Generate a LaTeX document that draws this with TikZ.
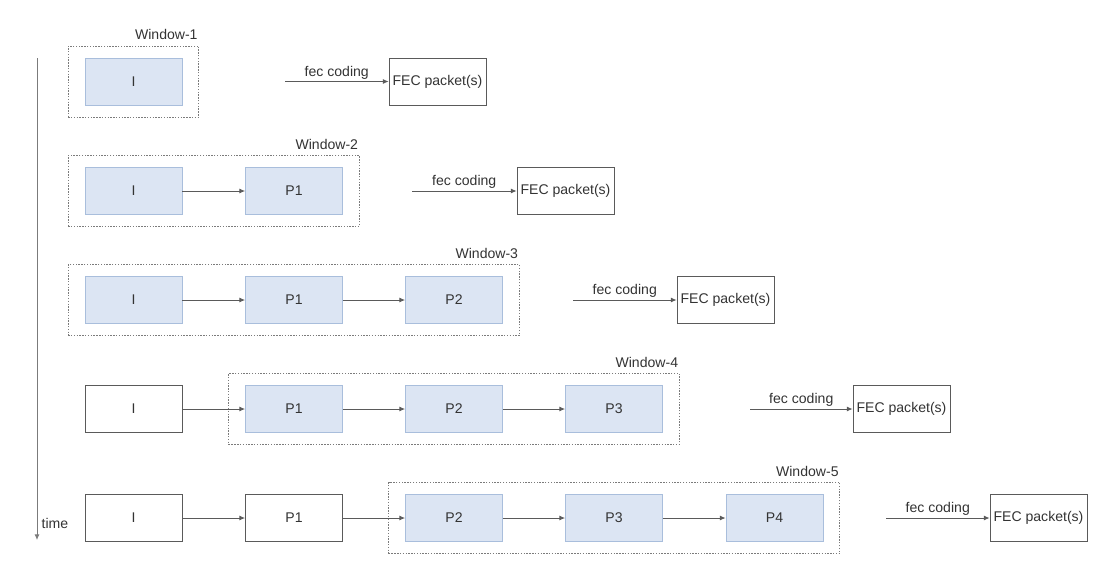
\documentclass[tikz,border=0pt]{standalone}
\usepackage{fontspec}
\setmainfont{Liberation Sans}
\usetikzlibrary{arrows.meta,fit}
\definecolor{pktfill}{HTML}{DCE5F3}
\definecolor{pktline}{HTML}{A9BEDC}
\definecolor{txtgrey}{HTML}{333333}
\definecolor{linegrey}{HTML}{5A5A5A}
\tikzset{
  pkt/.style={draw=linegrey, line width=0.6pt, minimum width=2.425cm, minimum height=1.175cm,
    text=txtgrey, font=\fontsize{10}{12}\selectfont},
  inwin/.style={pkt, fill=pktfill, draw=pktline},
  fecbox/.style={pkt, inner sep=0pt},
  window/.style={draw=linegrey!80, line width=0.6pt, dash pattern=on 1pt off 1pt,
    inner xsep=0.41cm, inner ysep=0.29cm},
  wintitle/.style={anchor=south east, inner sep=1pt, yshift=3pt, text=txtgrey,
    font=\fontsize{10}{12}\selectfont},
  flow/.style={->, >={Latex[length=4pt,width=3.5pt]}, draw=linegrey, line width=0.6pt},
  lbl/.style={above, inner sep=1.5pt, text=txtgrey, font=\fontsize{10}{12}\selectfont},
}

\begin{document}
\begin{tikzpicture}[x=0.025cm, y=-0.025cm]
\useasboundingbox (0,0) rectangle (1118,580);

% time axis
\coordinate (ttop) at (37,58);
\coordinate (tbot) at (37,540);
\draw [flow, draw=linegrey!80] (ttop) to (tbot);
\node [text=txtgrey, font=\fontsize{10}{12}\selectfont] (tlbl) at (55,523) {time};

% window 1
\node [inwin] (i1)  at (133.5,81.5) {I};
\node [window, fit=(i1)] (w1) {};
\node [wintitle] (wt1) at (w1.north east) {Window-1};
\coordinate (s1) at (285,81.5);
\node [fecbox] (fec1) at (437.5,81.5) {FEC packet(s)};
\draw [flow] (s1) to node [lbl] {fec coding} (fec1);

% window 2
\node [inwin] (i2)  at (133.5,191) {I};
\node [inwin] (p12) at (294,191)   {P1};
\draw [flow] (i2) to (p12);
\node [window, fit=(i2)(p12)] (w2) {};
\node [wintitle] (wt2) at (w2.north east) {Window-2};
\coordinate (s2) at (412,191);
\node [fecbox] (fec2) at (565.5,191) {FEC packet(s)};
\draw [flow] (s2) to node [lbl] {fec coding} (fec2);

% window 3
\node [inwin] (i3)  at (133.5,300) {I};
\node [inwin] (p13) at (294,300)   {P1};
\node [inwin] (p23) at (454,300)   {P2};
\draw [flow] (i3) to (p13);
\draw [flow] (p13) to (p23);
\node [window, fit=(i3)(p23)] (w3) {};
\node [wintitle] (wt3) at (w3.north east) {Window-3};
\coordinate (s3) at (573,300);
\node [fecbox] (fec3) at (725.5,300) {FEC packet(s)};
\draw [flow] (s3) to node [lbl] {fec coding} (fec3);

% window 4
\node [pkt]   (i4)  at (133.5,409) {I};
\node [inwin] (p14) at (294,409)   {P1};
\node [inwin] (p24) at (454,409)   {P2};
\node [inwin] (p34) at (614,409)   {P3};
\draw [flow] (i4) to (p14);
\draw [flow] (p14) to (p24);
\draw [flow] (p24) to (p34);
\node [window, fit=(p14)(p34)] (w4) {};
\node [wintitle] (wt4) at (w4.north east) {Window-4};
\coordinate (s4) at (750,409);
\node [fecbox] (fec4) at (901.5,409) {FEC packet(s)};
\draw [flow] (s4) to node [lbl] {fec coding} (fec4);

% window 5
\node [pkt]   (i5)  at (133.5,518) {I};
\node [pkt]   (p15) at (294,518)   {P1};
\node [inwin] (p25) at (454,518)   {P2};
\node [inwin] (p35) at (614,518)   {P3};
\node [inwin] (p45) at (774.5,518) {P4};
\draw [flow] (i5) to (p15);
\draw [flow] (p15) to (p25);
\draw [flow] (p25) to (p35);
\draw [flow] (p35) to (p45);
\node [window, fit=(p25)(p45)] (w5) {};
\node [wintitle] (wt5) at (w5.north east) {Window-5};
\coordinate (s5) at (886,518);
\node [fecbox] (fec5) at (1038.5,518) {FEC packet(s)};
\draw [flow] (s5) to node [lbl] {fec coding} (fec5);
\end{tikzpicture}
\end{document}
